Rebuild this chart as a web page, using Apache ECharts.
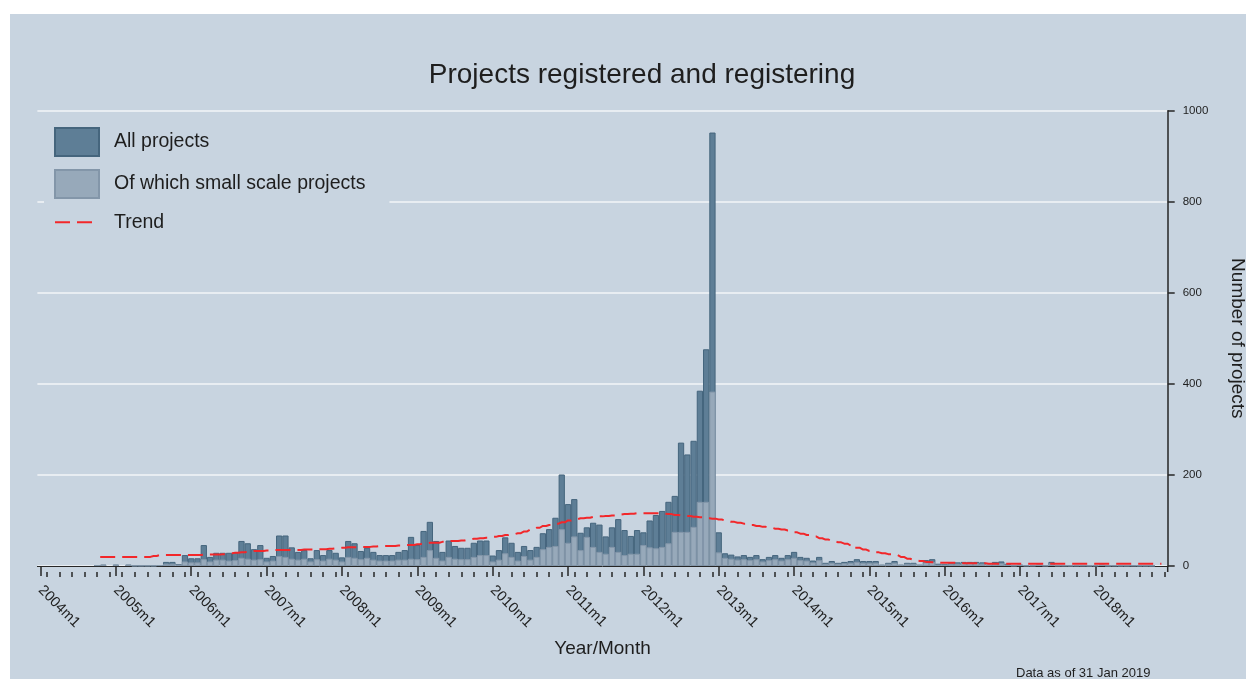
<!DOCTYPE html>
<html>
<head>
<meta charset="utf-8">
<script src="https://cdn.jsdelivr.net/npm/echarts@6/dist/echarts.min.js"></script>
<style>
  html, body { margin: 0; padding: 0; background: #ffffff; }
  #chart { width: 1246px; height: 679px; }
</style>
</head>
<body>
<div id="chart"></div>
<script>
// Monthly categories, 2004m1 .. 2018m12
const firstYear = 2004;
const lastYear = 2018;
const months = [];
for (let y = firstYear; y <= lastYear; y++) {
  for (let m = 1; m <= 12; m++) months.push(y + 'm' + m);
}

// Projects registered per month (one row per year)
const allProjects = [
  0, 0, 0, 0, 0, 0, 0, 0, 0, 2, 3, 0,
  3, 0, 3, 1, 1, 1, 1, 2, 9, 9, 4, 24,
  17, 17, 46, 20, 29, 29, 29, 29, 55, 50, 37, 46,
  18, 22, 67, 67, 41, 31, 35, 17, 35, 24, 35, 29,
  19, 55, 50, 33, 40, 31, 24, 24, 24, 31, 35, 64,
  46, 77, 97, 55, 31, 56, 44, 40, 40, 51, 56, 56,
  23, 35, 63, 51, 31, 44, 35, 42, 72, 81, 106, 201,
  136, 147, 73, 85, 95, 91, 65, 85, 103, 79, 66, 79,
  74, 100, 112, 121, 141, 154, 271, 245, 275, 385, 476, 952,
  74, 28, 25, 21, 24, 20, 24, 15, 20, 24, 18, 24,
  31, 20, 18, 12, 20, 7, 11, 7, 9, 11, 15, 11,
  11, 11, 3, 7, 11, 3, 7, 7, 3, 13, 15, 5,
  4, 6, 8, 9, 9, 9, 8, 3, 9, 10, 5, 2,
  3, 2, 2, 3, 2, 9, 2, 2, 1, 2, 2, 1,
  2, 3, 1, 2, 1, 1, 2, 1, 1, 1, 0, 0
];

// Of which small scale projects
const smallScale = [
  0, 0, 0, 0, 0, 0, 0, 0, 0, 2, 3, 0,
  3, 0, 3, 1, 1, 1, 1, 2, 5, 5, 3, 10,
  8, 8, 15, 10, 14, 14, 12, 13, 18, 16, 14, 15,
  10, 12, 22, 20, 16, 14, 16, 10, 15, 12, 16, 14,
  10, 20, 18, 15, 18, 14, 12, 12, 12, 14, 14, 16,
  15, 20, 35, 18, 12, 20, 16, 15, 15, 20, 24, 24,
  10, 14, 28, 20, 12, 22, 14, 20, 37, 42, 44, 81,
  51, 65, 35, 64, 42, 31, 27, 42, 31, 24, 27, 27,
  46, 41, 39, 42, 50, 75, 75, 75, 86, 141, 141, 383,
  30, 18, 16, 14, 15, 13, 15, 10, 13, 15, 12, 15,
  18, 13, 12, 8, 13, 5, 7, 5, 6, 7, 9, 7,
  7, 7, 2, 5, 7, 2, 5, 5, 2, 8, 9, 3,
  3, 4, 5, 6, 6, 6, 5, 2, 6, 6, 3, 1,
  2, 1, 1, 2, 1, 6, 1, 1, 1, 1, 1, 1,
  1, 2, 1, 1, 1, 1, 1, 1, 1, 1, 0, 0
];

// Smoothed trend of monthly registrations
const trend = [
  null, null, null, null, null, null, null, null, null, null, 20, 20,
  20, 20, 20, 20, 20, 20, 22, 24, 24, 24, 24, 24,
  24, 24, 25, 25, 25, 26, 28, 29, 30, 31, 33, 33,
  34, 35, 35, 35, 35, 35, 36, 36, 37, 37, 38, 39,
  40, 41, 41, 42, 42, 43, 44, 44, 44, 45, 46, 46,
  48, 50, 51, 51, 53, 55, 55, 56, 58, 60, 61, 62,
  64, 66, 68, 70, 72, 76, 80, 84, 88, 90, 93, 96,
  100, 103, 105, 106, 108, 109, 110, 111, 113, 114, 115, 116,
  116, 116, 116, 115, 114, 112, 111, 110, 108, 107, 105, 104,
  102, 100, 97, 95, 93, 90, 88, 86, 84, 82, 80, 78,
  74, 71, 68, 65, 61, 58, 55, 52, 49, 45, 40, 36,
  33, 30, 28, 26, 24, 20, 16, 13, 11, 9, 8, 7,
  7, 7, 7, 6, 6, 6, 6, 5, 5, 5, 5, 5,
  5, 5, 5, 5, 5, 5, 5, 5, 5, 5, 5, 5,
  5, 5, 5, 5, 5, 5, 5, 5, 5, 5, 5, null
];

// Value axis ticks
const yMin = 0;
const yMax = 1000;
const yStep = 200;

const FONT = '"Liberation Sans", Arial, Helvetica, sans-serif';
const PANEL = '#c8d4e0';
const INK = '#1e1e1e';
const AXIS = '#262626';

const chart = echarts.init(document.getElementById('chart'), null, { renderer: 'canvas' });

const blankZero = v => (v === 0 ? '-' : v);

// Plot frame (pixels) shared by the grid and the axis joint
const frame = { left: 37.4, right: 78.3, top: 110.7, bottom: 113 };
const axisDrop = 6;

chart.setOption({
  backgroundColor: '#ffffff',
  animation: false,
  textStyle: { fontFamily: FONT },
  graphic: [
    { type: 'rect', z: -10, silent: true,
      shape: { x: 10, y: 14, width: 1236, height: 665 },
      style: { fill: PANEL } },
    // join the right value axis down to the offset time axis
    { type: 'line', silent: true, z: 5,
      shape: { x1: 1246 - frame.right, y1: 679 - frame.bottom,
               x2: 1246 - frame.right, y2: 679 - frame.bottom + axisDrop },
      style: { stroke: AXIS, lineWidth: 1.5 } }
  ],
  title: [
    { text: 'Projects registered and registering', left: 642, top: 61, textAlign: 'center', padding: 0,
      textStyle: { fontSize: 28, fontWeight: 'normal', color: INK, fontFamily: FONT } },
    { text: 'Data as of 31 Jan 2019', left: 1016, top: 667, padding: 0,
      textStyle: { fontSize: 13, fontWeight: 'normal', color: INK, fontFamily: FONT } }
  ],
  legend: {
    orient: 'vertical', left: 44, top: 115,
    padding: [12, 24, 10, 10],
    itemGap: 12, itemWidth: 44, itemHeight: 28,
    backgroundColor: PANEL,
    selectedMode: false,
    textStyle: { fontSize: 19.5, color: INK, fontFamily: FONT, padding: [0, 0, 0, 10] },
    data: [
      { name: 'All projects', icon: 'rect' },
      { name: 'Of which small scale projects', icon: 'rect' },
      { name: 'Trend', itemStyle: { color: 'rgba(0,0,0,0)', borderWidth: 0, opacity: 0 } }
    ]
  },
  grid: {
    left: frame.left, right: frame.right, top: frame.top, bottom: frame.bottom,
    containLabel: false, outerBoundsMode: 'none'
  },
  xAxis: [
    {
      type: 'category', data: months, boundaryGap: true, position: 'bottom', offset: axisDrop,
      axisLine: { show: true, lineStyle: { color: AXIS, width: 1 } },
      axisTick: { show: true, alignWithLabel: true, interval: i => i % 12 === 0, length: 10,
                  lineStyle: { color: AXIS, width: 1.5 } },
      axisLabel: { interval: i => i % 12 === 0, rotate: -45, margin: 16, fontSize: 14.5, color: INK },
      splitLine: { show: false },
      name: 'Year/Month', nameLocation: 'middle', nameGap: 67,
      nameTextStyle: { fontSize: 19, color: INK }
    },
    {
      type: 'category', data: months, boundaryGap: true, position: 'bottom', offset: axisDrop,
      axisLine: { show: false },
      axisTick: { show: true, alignWithLabel: true, interval: i => i % 2 === 1, length: 5,
                  lineStyle: { color: AXIS, width: 1.5 } },
      axisLabel: { show: false },
      splitLine: { show: false }
    }
  ],
  yAxis: {
    type: 'value', position: 'right', min: yMin, max: yMax, interval: yStep,
    axisLine: { show: true, lineStyle: { color: AXIS, width: 1.5 } },
    axisTick: { show: true, length: 7, lineStyle: { color: AXIS, width: 1.5 } },
    axisLabel: { fontSize: 11.5, color: INK, margin: 15, formatter: v => String(v) },
    splitLine: { show: true, lineStyle: { color: '#f3f6f9', width: 1.6 } },
    name: 'Number of projects', nameLocation: 'middle', nameRotate: -90, nameGap: 60,
    nameTextStyle: { fontSize: 19, color: INK }
  },
  series: [
    {
      name: 'All projects', type: 'bar', xAxisIndex: 0,
      data: allProjects.map(blankZero),
      barGap: '-100%', barCategoryGap: '0%',
      itemStyle: { color: '#5e7e96', borderColor: '#45657d', borderWidth: 1 },
      z: 2
    },
    {
      name: 'Of which small scale projects', type: 'bar', xAxisIndex: 0,
      data: smallScale.map(blankZero),
      barGap: '-100%', barCategoryGap: '0%',
      itemStyle: { color: '#97a9ba', borderColor: '#8396a9', borderWidth: 1 },
      z: 3
    },
    {
      name: 'Trend', type: 'line', xAxisIndex: 0,
      data: trend, step: 'middle', symbol: 'none', connectNulls: false,
      lineStyle: { color: '#f2272a', width: 2, type: [15, 7] },
      itemStyle: { color: '#f2272a' },
      z: 4
    }
  ]
});
</script>
</body>
</html>
